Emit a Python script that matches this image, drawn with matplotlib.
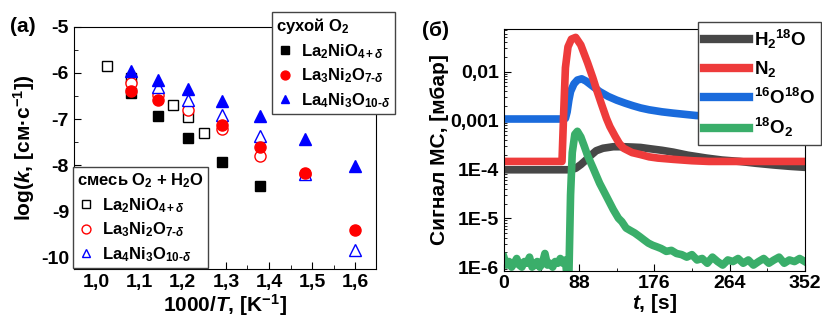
import numpy as np
import matplotlib
matplotlib.use("Agg")
import matplotlib.pyplot as plt
from matplotlib.ticker import FixedLocator, NullFormatter, LogLocator

plt.rcParams['font.family'] = ['Liberation Sans', 'DejaVu Sans']
plt.rcParams['font.weight'] = 'bold'
plt.rcParams['axes.labelweight'] = 'bold'
plt.rcParams['mathtext.fontset'] = 'custom'
plt.rcParams['mathtext.rm'] = 'Liberation Sans:bold'
plt.rcParams['mathtext.bf'] = 'Liberation Sans:bold'
plt.rcParams['mathtext.it'] = 'Liberation Sans:bold:italic'
plt.rcParams['mathtext.default'] = 'rm'

# ---- (a) log(k) vs 1000/T ----
x_sq_dry = [1.081, 1.143, 1.212, 1.291, 1.380]
y_sq_dry = [-6.44, -6.94, -7.42, -7.92, -8.46]
x_ci_dry = [1.081, 1.143, 1.291, 1.380, 1.483, 1.600]
y_ci_dry = [-6.39, -6.58, -7.12, -7.60, -8.17, -9.41]
x_tr_dry = [1.081, 1.143, 1.212, 1.291, 1.380, 1.483, 1.600]
y_tr_dry = [-5.96, -6.15, -6.35, -6.60, -6.94, -7.43, -8.01]

x_sq_wet = [1.025, 1.081, 1.177, 1.212, 1.249]
y_sq_wet = [-5.85, -6.11, -6.70, -6.96, -7.31]
x_ci_wet = [1.081, 1.143, 1.212, 1.291, 1.380, 1.483]
y_ci_wet = [-6.22, -6.47, -6.81, -7.22, -7.81, -8.19]
x_tr_wet = [1.143, 1.212, 1.291, 1.380, 1.483, 1.600]
y_tr_wet = [-6.30, -6.58, -6.91, -7.36, -8.19, -9.84]

names = [r'La$_2$NiO$_{4+\mathit{\delta}}$',
         r'La$_3$Ni$_2$O$_{7\text{-}\mathit{\delta}}$',
         r'La$_4$Ni$_3$O$_{10\text{-}\mathit{\delta}}$']

a_xticks = [1.0, 1.1, 1.2, 1.3, 1.4, 1.5, 1.6]
a_xlabels = ['1,0', '1,1', '1,2', '1,3', '1,4', '1,5', '1,6']
a_yticks = [-10, -9, -8, -7, -6, -5]
a_ylabels = ['-10', '-9', '-8', '-7', '-6', '-5']

# ---- (б) MS signal vs time ----
t_h2o = [0, 40, 78, 84, 90, 96, 102, 108, 116, 128, 140, 151, 160, 170, 185,
         198, 215, 237, 255, 276, 295, 315, 335, 352]
v_h2o = [9.8e-5, 9.8e-5, 9.8e-5, 1.05e-4, 1.25e-4, 1.55e-4, 1.95e-4, 2.4e-4,
         2.7e-4, 2.9e-4, 2.9e-4, 2.85e-4, 2.8e-4, 2.65e-4, 2.45e-4, 2.25e-4,
         1.95e-4, 1.7e-4, 1.55e-4, 1.45e-4, 1.33e-4, 1.23e-4, 1.15e-4, 1.1e-4]

t_n2 = [0, 20, 40, 60, 68, 70, 72, 75, 79, 84, 90, 98, 104, 108, 114, 120,
        124, 130, 135, 140, 150, 160, 170, 180, 198, 220, 240, 280, 320, 352]
v_n2 = [1.45e-4, 1.45e-4, 1.45e-4, 1.45e-4, 1.45e-4, 1.5e-3, 1.2e-2, 3.2e-2,
        4.6e-2, 5.0e-2, 3.5e-2, 1.5e-2, 7.5e-3, 4.5e-3, 2.2e-3, 1.1e-3, 7.5e-4,
        4.8e-4, 3.4e-4, 2.7e-4, 2.2e-4, 2.0e-4, 1.8e-4, 1.7e-4, 1.6e-4, 1.5e-4,
        1.45e-4, 1.45e-4, 1.45e-4, 1.45e-4]

t_o1618 = [0, 40, 70, 72, 74, 76, 78, 82, 86, 91, 96, 104, 112, 122, 132, 142,
           151, 160, 170, 185, 198, 212, 225, 250, 280, 320, 352]
v_o1618 = [1.07e-3, 1.07e-3, 1.07e-3, 1.1e-3, 1.5e-3, 2.6e-3, 3.9e-3, 5.6e-3,
           6.7e-3, 7.1e-3, 6.4e-3, 5.0e-3, 3.9e-3, 3.1e-3, 2.6e-3, 2.25e-3,
           2.0e-3, 1.8e-3, 1.65e-3, 1.5e-3, 1.41e-3, 1.33e-3, 1.26e-3, 1.2e-3,
           1.15e-3, 1.12e-3, 1.1e-3]

t_o18 = [0, 3, 6, 9, 12, 15, 18, 21, 24, 27, 30, 33, 36, 39, 42, 45, 48, 51,
         54, 57, 60, 63, 66, 69, 72, 74, 76, 78, 80, 83, 86, 90, 94, 98, 104,
         112, 120, 128, 134, 138, 143, 148, 153, 159, 164, 169, 174, 179, 184,
         190, 196, 202, 208, 214, 220, 226, 232, 238, 244, 250, 256, 262, 268,
         274, 280, 286, 292, 298, 304, 310, 316, 322, 328, 334, 340, 346, 352]
v_o18 = [1.6e-6, 1.1e-6, 1.3e-6, 1.0e-6, 1.2e-6, 1.5e-6, 1.1e-6, 1.0e-6,
         1.3e-6, 1.2e-6, 1.6e-6, 1.0e-6, 1.1e-6, 1.3e-6, 1.0e-6, 1.2e-6,
         1.9e-6, 1.1e-6, 1.2e-6, 1.0e-6, 1.3e-6, 1.2e-6, 1.5e-6, 1.2e-6,
         1.4e-6, 6e-7, 6e-7, 3e-5, 2.2e-4, 5.2e-4, 6e-4, 4.6e-4, 3e-4, 1.9e-4,
         1.1e-4, 5.2e-5, 2.8e-5, 1.5e-5, 1.0e-5, 8.5e-6, 6.3e-6, 5.6e-6, 5.0e-6,
         4.2e-6, 3.6e-6, 3.1e-6, 2.8e-6, 2.6e-6, 2.4e-6, 2.1e-6, 2.2e-6, 1.9e-6,
         1.8e-6, 1.6e-6, 1.8e-6, 1.4e-6, 1.5e-6, 1.2e-6, 1.6e-6, 1.3e-6, 1.1e-6,
         1.4e-6, 1.3e-6, 1.5e-6, 1.2e-6, 1.4e-6, 1.1e-6, 1.3e-6, 1.5e-6, 1.2e-6,
         1.4e-6, 1.6e-6, 1.2e-6, 1.4e-6, 1.3e-6, 1.5e-6, 1.3e-6]

b_xticks = [0, 88, 176, 264, 352]
b_yticks = [1e-6, 1e-5, 1e-4, 1e-3, 1e-2]
b_ylabels = ['1E-6', '1E-5', '1E-4', '0,001', '0,01']
b_names = [r'H$_2$$^{18}$O', r'N$_2$', r'$^{16}$O$^{18}$O', r'$^{18}$O$_2$']

fig = plt.figure(figsize=(8.22, 3.24), dpi=100)
axa = fig.add_axes([0.090, 0.170, 0.367, 0.747])
axb = fig.add_axes([0.613, 0.165, 0.366, 0.745])

# panel (a)
ms = 7
axa.plot(x_sq_wet, y_sq_wet, 's', ms=ms, mfc='white', mec='black', mew=1, ls='none')
axa.plot(x_ci_wet, y_ci_wet, 'o', ms=ms + 1, mfc='white', mec='red', mew=1, ls='none')
axa.plot(x_tr_wet, y_tr_wet, '^', ms=ms + 1, mfc='white', mec='blue', mew=1, ls='none')
h1, = axa.plot(x_sq_dry, y_sq_dry, 's', ms=ms, color='black', ls='none')
h2, = axa.plot(x_ci_dry, y_ci_dry, 'o', ms=ms + 1, color='red', ls='none')
h3, = axa.plot(x_tr_dry, y_tr_dry, '^', ms=ms + 1, color='blue', ls='none')

axa.set_xlim(0.948, 1.647)
axa.set_ylim(-10.25, -5.0)
axa.set_xticks(a_xticks)
axa.set_xticklabels(a_xlabels)
axa.set_yticks(a_yticks)
axa.set_yticklabels(a_ylabels)
axa.xaxis.set_minor_locator(FixedLocator(np.arange(0.95, 1.66, 0.05)))
axa.yaxis.set_minor_locator(FixedLocator(np.arange(-10.0, -4.9, 0.5)))
axa.tick_params(which='both', direction='in', labelsize=14, right=False, top=False)
axa.tick_params(which='major', length=5)
axa.tick_params(which='minor', length=3)
axa.set_xlabel(r'1000/$\mathit{T}$, [K$^{-1}$]', fontsize=15, labelpad=1)
axa.set_ylabel(r'log($\mathit{k}$, [см·с$^{-1}$])', fontsize=15, labelpad=3)

leg_kw = dict(fontsize=12, title_fontsize=12, frameon=True, fancybox=False,
              edgecolor='#444444', framealpha=1, alignment='left',
              handlelength=1.0, handletextpad=0.5, labelspacing=0.35,
              borderpad=0.25, borderaxespad=0, markerscale=0.8)

leg1 = fig.legend([h1, h2, h3], names, title=r'сухой O$_2$',
                  loc='upper left', bbox_to_anchor=(272 / 822, 1 - 12 / 324),
                  **leg_kw)
leg1.get_frame().set_linewidth(1.0)

hw1, = axa.plot([], [], 's', ms=ms, mfc='white', mec='black', mew=1, ls='none')
hw2, = axa.plot([], [], 'o', ms=ms + 1, mfc='white', mec='red', mew=1, ls='none')
hw3, = axa.plot([], [], '^', ms=ms + 1, mfc='white', mec='blue', mew=1, ls='none')
leg2 = fig.legend([hw1, hw2, hw3], names, title=r'смесь O$_2$ + H$_2$O',
                  loc='lower left', bbox_to_anchor=(73 / 822, 1 - 268 / 324),
                  **leg_kw)
leg2.get_frame().set_linewidth(1.0)

fig.text(10 / 822, 1 - 26 / 324, '(a)', fontsize=15, va='center', ha='left')

# panel (б)
lw = 5.5
lg, = axb.plot(t_h2o, v_h2o, color='#474747', lw=lw, solid_joinstyle='round')
lb, = axb.plot(t_o1618, v_o1618, color='#1a6bdc', lw=lw, solid_joinstyle='round')
lr, = axb.plot(t_n2, v_n2, color='#ee3b3b', lw=lw, solid_joinstyle='round')
lgr, = axb.plot(t_o18, v_o18, color='#3aae6a', lw=lw, solid_joinstyle='round')

axb.set_yscale('log')
axb.set_xlim(0, 352)
axb.set_ylim(10 ** -6.07, 10 ** -1.133)
axb.set_xticks(b_xticks)
axb.set_xticklabels([str(v) for v in b_xticks])
axb.xaxis.set_minor_locator(FixedLocator([44, 132, 220, 308]))
axb.set_yticks(b_yticks)
axb.set_yticklabels(b_ylabels)
axb.yaxis.set_minor_locator(LogLocator(base=10, subs=np.arange(2, 10)))
axb.yaxis.set_minor_formatter(NullFormatter())
axb.tick_params(which='both', direction='in', labelsize=14, right=False, top=False)
axb.tick_params(which='major', length=5)
axb.tick_params(which='minor', length=2.5)
axb.set_xlabel(r'$\mathit{t}$, [s]', fontsize=15, labelpad=0)
axb.set_ylabel('Сигнал МС, [мбар]', fontsize=15, labelpad=1)

leg3 = fig.legend([lg, lr, lb, lgr], b_names,
                  loc='upper left', bbox_to_anchor=(698 / 822, 1 - 22 / 324),
                  fontsize=13.5, frameon=True, fancybox=False, edgecolor='#444444',
                  framealpha=1, handlelength=2.4, handletextpad=0.3,
                  labelspacing=0.45, borderpad=0.3, borderaxespad=0)
leg3.get_frame().set_linewidth(1.0)
for line in leg3.get_lines():
    line.set_linewidth(6)

fig.text(422 / 822, 1 - 31 / 324, '(б)', fontsize=15, va='center', ha='left')

plt.savefig('out.png', dpi=100)
